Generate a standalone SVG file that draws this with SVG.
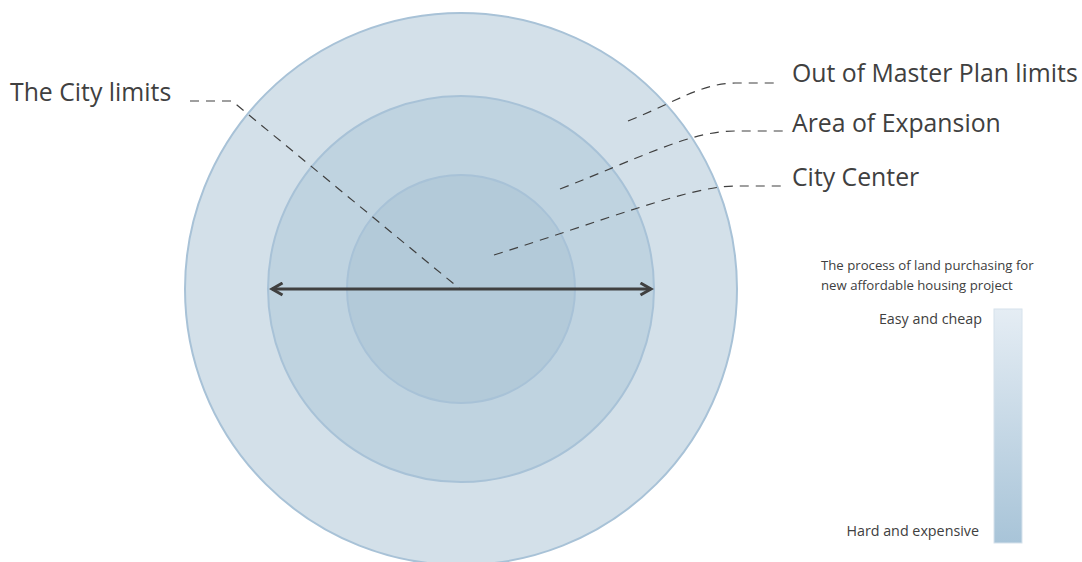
<svg xmlns="http://www.w3.org/2000/svg" width="1082" height="562" viewBox="0 0 1082 562">
  <style>
    .label { font-family: "Open Sans", "Liberation Sans", sans-serif; fill: #404040; font-size: 24.8px; }
    .title { font-family: "Open Sans", "Liberation Sans", sans-serif; fill: #404040; font-size: 13.2px; }
    .small { font-family: "Open Sans", "Liberation Sans", sans-serif; fill: #404040; font-size: 14.3px; }
    .ring { stroke: #a8c2d7; stroke-width: 2; }
    .lead { fill: none; stroke: #404040; stroke-width: 1.2; stroke-dasharray: 9 7; }
  </style>
  <defs>
    <linearGradient id="scale" x1="0" y1="0" x2="0" y2="1">
      <stop offset="0" stop-color="#e5edf4"/>
      <stop offset="1" stop-color="#a8c4d8"/>
    </linearGradient>
    <marker id="head" viewBox="0 0 10 10" refX="8" refY="5" markerWidth="5" markerHeight="5" orient="auto-start-reverse" markerUnits="strokeWidth">
      <path d="M1,1 L8,5 L1,9" fill="none" stroke="#404040" stroke-width="2"/>
    </marker>
  </defs>
  <rect width="1082" height="562" fill="#ffffff"/>

  <g id="outer-zone">
    <circle class="ring" cx="461" cy="289" r="276" fill="#d3e0e9"/>
  </g>
  <g id="expansion-zone">
    <circle class="ring" cx="461" cy="289" r="193" fill="#bfd3e0"/>
  </g>
  <g id="center-zone">
    <circle class="ring" cx="461" cy="289" r="114" fill="#b3cad9"/>
  </g>

  <g id="connectors">
    <line x1="272" y1="289" x2="651" y2="289" stroke="#404040" stroke-width="3" marker-start="url(#head)" marker-end="url(#head)"/>
    <path class="lead" d="M190,101 L232,101 L460,289"/>
    <path class="lead" d="M628,121 C680,100 700,84 735,83 L776,83"/>
    <path class="lead" d="M560,189 C640,158 690,131 735,131 L783,131"/>
    <path class="lead" d="M494,255 C600,222 690,186 735,186 L783,186"/>
  </g>

  <g id="labels">
    <text class="label" x="10" y="101">The City limits</text>
    <text class="label" x="792" y="82">Out of Master Plan limits</text>
    <text class="label" x="792" y="132">Area of Expansion</text>
    <text class="label" x="792" y="186">City Center</text>
  </g>

  <g id="legend">
    <text class="title" x="821" y="270">The process of land purchasing for</text>
    <text class="title" x="821" y="290">new affordable housing project</text>
    <text class="small" x="982" y="324" text-anchor="end">Easy and cheap</text>
    <text class="small" x="979" y="536" text-anchor="end">Hard and expensive</text>
    <rect x="994" y="309" width="28" height="234" fill="url(#scale)" stroke="#d6e2ec" stroke-width="1"/>
  </g>
</svg>
